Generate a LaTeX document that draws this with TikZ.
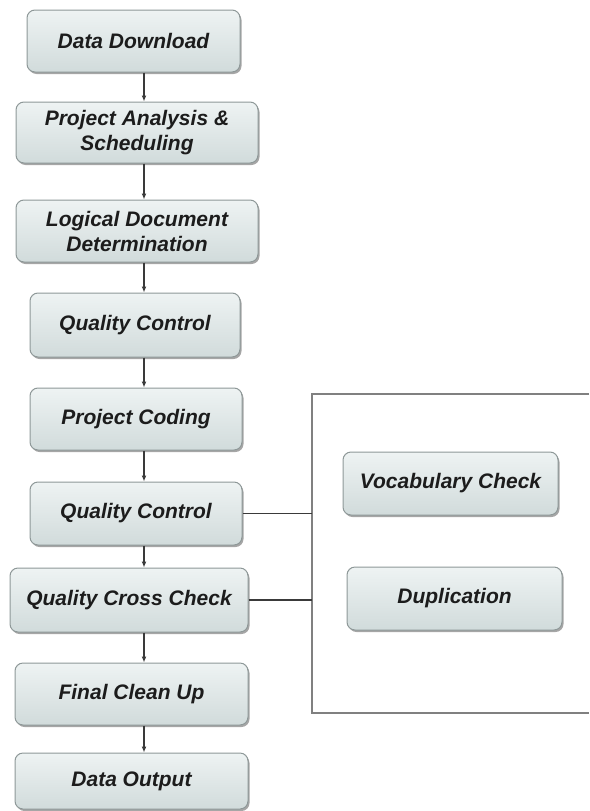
\documentclass[tikz,border=0pt]{standalone}
\usepackage{fontspec}
\setmainfont{Liberation Sans}
\usetikzlibrary{shadows,arrows.meta}
\definecolor{boxborder}{HTML}{8E9898}
\definecolor{boxtop}{HTML}{EEF3F3}
\definecolor{boxbot}{HTML}{D1DBDB}
\definecolor{textc}{HTML}{1C1C1C}
\definecolor{linec}{HTML}{3A3A3A}
\definecolor{framec}{HTML}{808080}
\begin{document}
\begin{tikzpicture}[x=1pt,y=-1pt,
  proc/.style={draw=boxborder, line width=1pt, rounded corners=8pt,
    top color=boxtop, bottom color=boxbot, text=textc,
    font=\fontsize{21}{25}\selectfont\bfseries\itshape, align=center,
    inner sep=2pt,
    drop shadow={shadow xshift=1.5pt, shadow yshift=-2pt, opacity=0.35, fill=black}},
  flow/.style={draw=linec, line width=1.3pt, -{Latex[length=6pt,width=5pt]}},
  conn/.style={draw=linec, line width=1.3pt},
  frameline/.style={draw=framec, line width=1.4pt}]
\useasboundingbox (0,0) rectangle (589,811);
\node[proc, minimum width=213pt, minimum height=62pt] (b1) at (133.5,41) {Data Download};
\node[proc, minimum width=242pt, minimum height=61pt] (b2) at (137,132.5) {Project Analysis \&\\Scheduling};
\node[proc, minimum width=242pt, minimum height=62pt] (b3) at (137,231) {Logical Document\\Determination};
\node[proc, minimum width=210pt, minimum height=64pt] (b4) at (135,325) {Quality Control};
\node[proc, minimum width=212pt, minimum height=62pt] (b5) at (136,419) {Project Coding};
\node[proc, minimum width=212pt, minimum height=63pt] (b6) at (136,513.5) {Quality Control};
\node[proc, minimum width=238pt, minimum height=64pt] (b7) at (129,600) {Quality Cross Check};
\node[proc, minimum width=233pt, minimum height=62pt] (b8) at (131.5,694) {Final Clean Up};
\node[proc, minimum width=233pt, minimum height=56pt] (b9) at (131.5,781) {Data Output};
\node[proc, minimum width=215pt, minimum height=63pt] (v1) at (450.5,483.5) {Vocabulary Check};
\node[proc, minimum width=215pt, minimum height=63pt] (v2) at (454.5,598.5) {Duplication};
\coordinate (ax) at (144,0);
\coordinate (fl) at (312,394);
\coordinate (fr) at (589,394);
\coordinate (fbl) at (312,713);
\coordinate (fbr) at (589,713);
\foreach \a/\b in {b1/b2,b2/b3,b3/b4,b4/b5,b5/b6,b6/b7,b7/b8,b8/b9}
  \draw[flow] (\a.south -| ax) -- (\b.north -| ax);
\draw[frameline] (fr) -- (fl) -- (fbl) -- (fbr);
\draw[conn] (b6.east) -- (b6.east -| fl);
\draw[conn] (b7.east) -- (b7.east -| fl);
\end{tikzpicture}
\end{document}
